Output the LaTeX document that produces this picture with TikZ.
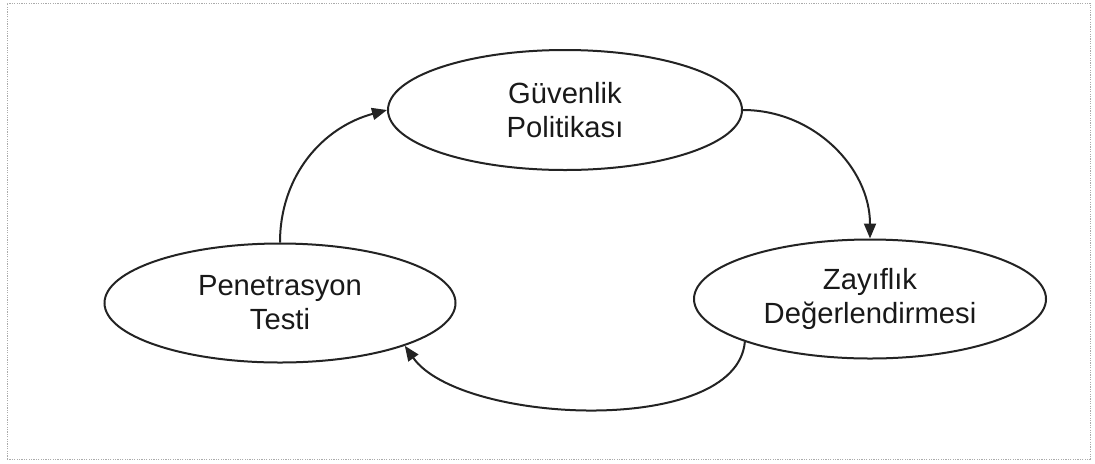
\documentclass[tikz,border=0pt]{standalone}
\usepackage{fontspec}
\setmainfont{Liberation Sans}
\usetikzlibrary{arrows.meta,shapes.geometric}
\definecolor{cyText}{RGB}{25,25,25}
\definecolor{cyLine}{RGB}{35,35,35}
\definecolor{cyFrame}{RGB}{170,170,170}
\tikzset{
    base/.style={font=\fontsize{14.6}{17}\selectfont, align=center, text=cyText},
    phase/.style={base, ellipse, draw=cyLine, line width=1pt, fill=white, inner sep=0pt,
                  minimum width=176pt, minimum height=59.5pt},
    flow/.style={-{Triangle[length=7.5pt,width=6pt]}, line width=1pt, color=cyLine},
    frame/.style={draw=cyFrame, line width=0.5pt, dash pattern=on 0.6pt off 0.6pt}
}
\begin{document}
\begin{tikzpicture}[x=0.5pt, y=0.5pt]
  \useasboundingbox (0,0) rectangle (1095,463);
  \draw[frame] (7,4) rectangle (1090,460);

  \node[phase, minimum width=177pt, minimum height=60pt] (guv) at (565,353) {Güvenlik\\Politikası};
  \node[phase] (zay) at (870,164) {Zayıflık\\Değerlendirmesi};
  \node[phase, minimum width=175.5pt] (pen) at (280,160) {Penetrasyon\\Testi};

  \draw[flow] (guv.east) to[out=0, in=90] (zay.north);
  \draw[flow] (zay.south west) to[out=-95, in=-55, looseness=0.72] (pen.south east);
  \draw[flow] (pen.north) to[out=90, in=195] (guv.west);
\end{tikzpicture}
\end{document}
